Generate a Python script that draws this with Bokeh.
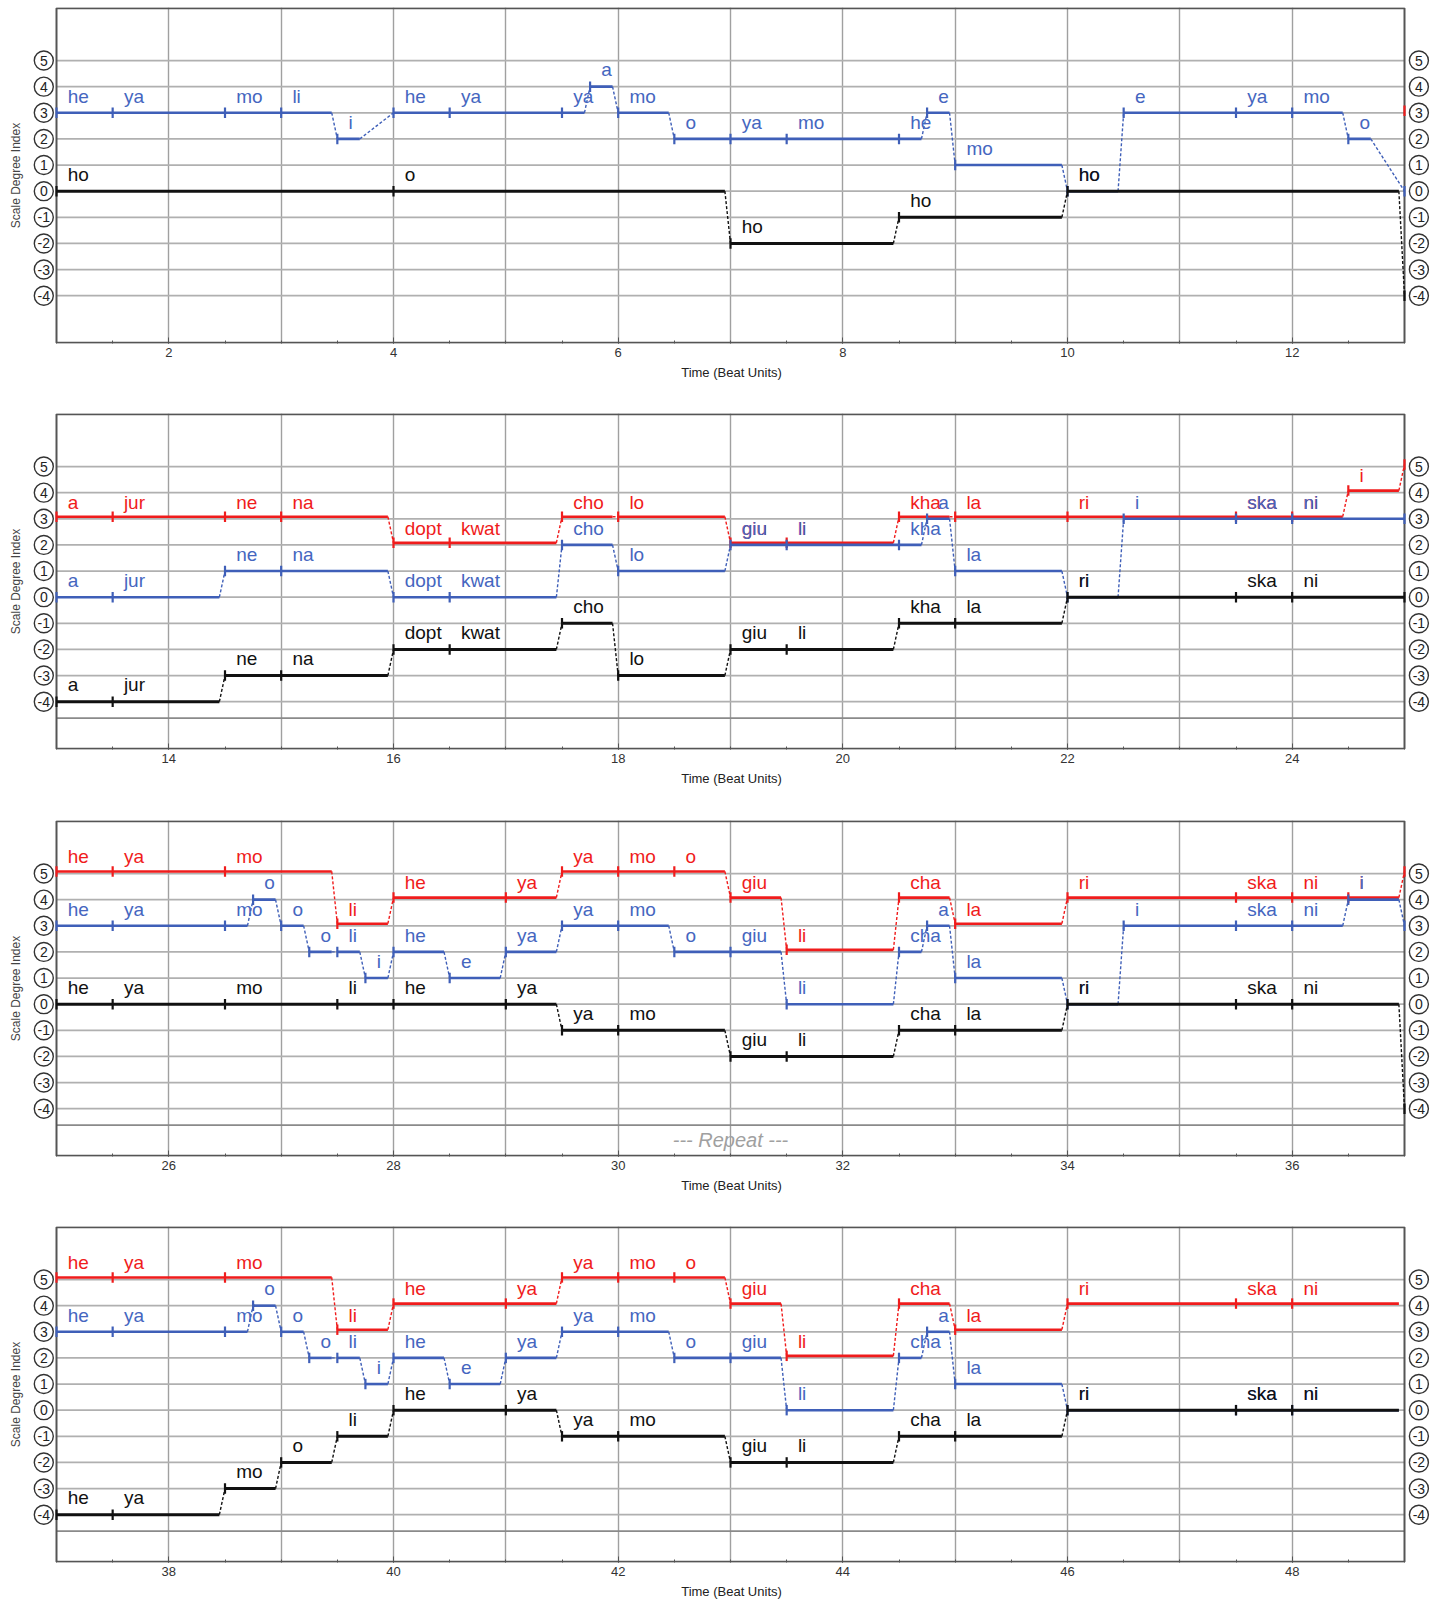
from bokeh.plotting import figure
from bokeh.models import Range1d, FixedTicker, ColumnDataSource
from bokeh.layouts import column
from bokeh.embed import file_html
from bokeh.resources import INLINE
from bokeh.core.properties import value

FONT = "Liberation Sans"

# ---------------- data (time in beats, pitch = scale degree index) ----------------
red_start = [13, 13.5, 14.5, 15, 16, 16.5, 17.5, 18, 19, 19.5, 20.5, 21, 22, 23.5, 24, 24.5,
             25, 25.5, 26.5, 27.5, 28, 29, 29.5, 30, 30.5, 31, 31.5, 32.5, 33, 34, 35.5, 36, 36.5,
             37, 37.5, 38.5, 39.5, 40, 41, 41.5, 42, 42.5, 43, 43.5, 44.5, 45, 46, 47.5, 48]
red_end = [13.5, 14.5, 15, 15.95, 16.5, 17.45, 17.95, 18.95, 19.5, 20.45, 20.95, 22, 23.5, 24, 24.45, 24.95,
           25.5, 26.5, 27.45, 27.95, 29, 29.45, 30, 30.5, 30.95, 31.45, 32.45, 32.95, 33.95, 35.5, 36, 36.5, 36.95,
           37.5, 38.5, 39.45, 39.95, 41, 41.45, 42, 42.5, 42.95, 43.45, 44.45, 44.95, 45.95, 47.5, 48, 48.95]
red_pitch = [3, 3, 3, 3, 2, 2, 3, 3, 2, 2, 3, 3, 3, 3, 3, 4,
             5, 5, 5, 3, 4, 4, 5, 5, 5, 4, 2, 4, 3, 4, 4, 4, 4,
             5, 5, 5, 3, 4, 4, 5, 5, 5, 4, 2, 4, 3, 4, 4, 4]
red_syl = ["a", "jur", "ne", "na", "dopt", "kwat", "cho", "lo", "giu", "li", "kha", "la", "ri", "ska", "ni", "i",
           "he", "ya", "mo", "li", "he", "ya", "ya", "mo", "o", "giu", "li", "cha", "la", "ri", "ska", "ni", "i",
           "he", "ya", "mo", "li", "he", "ya", "ya", "mo", "o", "giu", "li", "cha", "la", "ri", "ska", "ni"]

blue_start = [1, 1.5, 2.5, 3, 3.5, 4, 4.5, 5.5, 5.75, 6, 6.5, 7, 7.5, 8.5, 8.75, 9, 10, 10.5, 11.5, 12, 12.5,
              13, 13.5, 14.5, 15, 16, 16.5, 17.5, 18, 19, 19.5, 20.5, 20.75, 21, 22, 22.5, 23.5, 24,
              25, 25.5, 26.5, 26.75, 27, 27.25, 27.5, 27.75, 28, 28.5, 29, 29.5, 30, 30.5, 31, 31.5, 32.5, 32.75,
              33, 34, 34.5, 35.5, 36, 36.5,
              37, 37.5, 38.5, 38.75, 39, 39.25, 39.5, 39.75, 40, 40.5, 41, 41.5, 42, 42.5, 43, 43.5, 44.5, 44.75,
              45, 46, 47.5, 48]
blue_end = [1.5, 2.5, 3, 3.45, 3.7, 4.5, 5.5, 5.7, 5.95, 6.45, 7, 7.5, 8.5, 8.7, 8.95, 9.95, 10.45, 11.5, 12, 12.45, 12.7,
            13.5, 14.45, 15, 15.95, 16.5, 17.45, 17.95, 18.95, 19.5, 20.5, 20.7, 20.95, 21.95, 22.45, 23.5, 24, 25,
            25.5, 26.5, 26.7, 26.95, 27.2, 27.45, 27.7, 27.95, 28.45, 28.95, 29.45, 30, 30.45, 31, 31.45, 32.45, 32.7, 32.95,
            33.95, 34.45, 35.5, 36, 36.45, 36.95,
            37.5, 38.5, 38.7, 38.95, 39.2, 39.45, 39.7, 39.95, 40.45, 40.95, 41.45, 42, 42.45, 43, 43.45, 44.45, 44.7, 44.95,
            45.95, 47.5, 48, 48.95]
blue_pitch = [3, 3, 3, 3, 2, 3, 3, 3, 4, 3, 2, 2, 2, 2, 3, 1, 0, 3, 3, 3, 2,
              0, 0, 1, 1, 0, 0, 2, 1, 2, 2, 2, 3, 1, 0, 3, 3, 3,
              3, 3, 3, 4, 3, 2, 2, 1, 2, 1, 2, 3, 3, 2, 2, 0, 2, 3,
              1, 0, 3, 3, 3, 4,
              3, 3, 3, 4, 3, 2, 2, 1, 2, 1, 2, 3, 3, 2, 2, 0, 2, 3,
              1, 0, 0, 0]
blue_syl = ["he", "ya", "mo", "li", "i", "he", "ya", "ya", "a", "mo", "o", "ya", "mo", "he", "e", "mo", "ho", "e", "ya", "mo", "o",
            "a", "jur", "ne", "na", "dopt", "kwat", "cho", "lo", "giu", "li", "kha", "a", "la", "ri", "i", "ska", "ni",
            "he", "ya", "mo", "o", "o", "o", "li", "i", "he", "e", "ya", "ya", "mo", "o", "giu", "li", "cha", "a",
            "la", "ri", "i", "ska", "ni", "i",
            "he", "ya", "mo", "o", "o", "o", "li", "i", "he", "e", "ya", "ya", "mo", "o", "giu", "li", "cha", "a",
            "la", "ri", "ska", "ni"]

black_start = [1, 4, 7, 8.5, 10,
               13, 13.5, 14.5, 15, 16, 16.5, 17.5, 18, 19, 19.5, 20.5, 21, 22, 23.5, 24,
               25, 25.5, 26.5, 27.5, 28, 29, 29.5, 30, 31, 31.5, 32.5, 33, 34, 35.5, 36,
               37, 37.5, 38.5, 39, 39.5, 40, 41, 41.5, 42, 43, 43.5, 44.5, 45, 46, 47.5, 48]
black_end = [4, 6.95, 8.45, 9.95, 12.95,
             13.5, 14.45, 15, 15.95, 16.5, 17.45, 17.95, 18.95, 19.5, 20.45, 21, 21.95, 23.5, 24, 25,
             25.5, 26.5, 27.5, 28, 29, 29.45, 30, 30.95, 31.5, 32.45, 33, 33.95, 35.5, 36, 36.95,
             37.5, 38.45, 38.95, 39.45, 39.95, 41, 41.45, 42, 42.95, 43.5, 44.45, 45, 45.95, 47.5, 48, 48.95]
black_pitch = [0, 0, -2, -1, 0,
               -4, -4, -3, -3, -2, -2, -1, -3, -2, -2, -1, -1, 0, 0, 0,
               0, 0, 0, 0, 0, 0, -1, -1, -2, -2, -1, -1, 0, 0, 0,
               -4, -4, -3, -2, -1, 0, 0, -1, -1, -2, -2, -1, -1, 0, 0, 0]
black_syl = ["ho", "o", "ho", "ho", "ho",
             "a", "jur", "ne", "na", "dopt", "kwat", "cho", "lo", "giu", "li", "kha", "la", "ri", "ska", "ni",
             "he", "ya", "mo", "li", "he", "ya", "ya", "mo", "giu", "li", "cha", "la", "ri", "ska", "ni",
             "he", "ya", "mo", "o", "li", "he", "ya", "ya", "mo", "giu", "li", "cha", "la", "ri", "ska", "ni"]

panel_starts = [1, 13, 25, 37]
degree_levels = [5, 4, 3, 2, 1, 0, -1, -2, -3, -4]
degree_labels = ["5", "4", "3", "2", "1", "0", "-1", "-2", "-3", "-4"]
repeat_text = "--- Repeat ---"

# (starts, ends, pitches, syllables, line colour, text colour, line width, drawing lift in degrees)
voices = [
    (red_start, red_end, red_pitch, red_syl, "#f01c1c", "#f01c1c", 2.6, 0.08),
    (blue_start, blue_end, blue_pitch, blue_syl, "#3f5fb8", "#4566bf", 2.6, 0.0),
    (black_start, black_end, black_pitch, black_syl, "#111111", "#111111", 3.0, 0.0),
]

# ---------------- layout constants ----------------
PX = 1348 / 12.0          # pixels per beat
MB_L = 22
FRAME_W = 1418
FRAME_H = 336
LEFT_PAD = (56 - MB_L) / PX        # beats between frame left and first beat
RIGHT_PAD = (MB_L + FRAME_W - 1404) / PX
Y_LO, Y_HI = -5.8, 7.0
TOP_BORDERS = [7, 7, 8, 7]
BOTTOM_BORDERS = [63, 63, 63, 38]
LABEL_DX, LABEL_DY = 0.1, 0.64


def make_panel(k):
    x0 = panel_starts[k]
    x1 = x0 + 12
    xr = Range1d(x0 - LEFT_PAD, x1 + RIGHT_PAD)
    yr = Range1d(Y_LO - 0.03, Y_HI + 0.03)
    p = figure(frame_width=FRAME_W, frame_height=FRAME_H, x_range=xr, y_range=yr,
               output_backend="svg", toolbar_location=None,
               min_border_left=MB_L, min_border_right=0, min_border_top=TOP_BORDERS[k],
               min_border_bottom=BOTTOM_BORDERS[k], outline_line_color=None,
               background_fill_color="white", border_fill_color="white")

    # grid
    p.ygrid.grid_line_color = None
    p.xgrid.ticker = FixedTicker(ticks=[x0 + i for i in range(1, 12)])
    p.xgrid.grid_line_color = "#a0a0a0"
    p.xgrid.grid_line_width = 1.4
    p.segment(x0=[x0] * len(degree_levels), x1=[x1] * len(degree_levels),
              y0=degree_levels, y1=degree_levels, line_color="#b0b0b0", line_width=1.8)
    if k >= 1:
        p.segment(x0=[x0], x1=[x1], y0=[-4.63], y1=[-4.63], line_color="#8a8a8a", line_width=1.6)
    if k == 2:
        p.text(x=[x0 + 6], y=[-5.2], text=[repeat_text], text_align="center",
               text_baseline="middle", text_color="#a0a0a0", text_font_size="20px",
               text_font=value(FONT), text_font_style="italic")

    # border
    p.quad(left=[x0], right=[x1], bottom=[Y_LO], top=[Y_HI], fill_color=None,
           line_color="#555555", line_width=2)

    # axes
    p.yaxis.ticker = FixedTicker(ticks=[])
    p.yaxis.axis_line_color = None
    p.yaxis.major_tick_line_color = None
    p.yaxis.minor_tick_line_color = None
    p.yaxis.major_label_text_font_size = "0px"
    p.yaxis.major_tick_out = 0
    p.yaxis.major_label_standoff = 0
    p.yaxis.axis_label = "Scale Degree Index"
    p.yaxis.axis_label_text_font = FONT
    p.yaxis.axis_label_text_font_size = "12px"
    p.yaxis.axis_label_text_font_style = "normal"
    p.yaxis.axis_label_text_color = "#444444"
    p.yaxis.axis_label_standoff = 0

    p.xaxis.ticker = FixedTicker(ticks=[x0 + i for i in range(1, 12, 2)],
                                 minor_ticks=[x0 + 0.5 * i for i in range(0, 25)])
    p.xaxis.axis_line_color = None
    p.xaxis.major_tick_in = 6
    p.xaxis.major_tick_out = 0
    p.xaxis.minor_tick_in = 3
    p.xaxis.minor_tick_out = 0
    p.xaxis.major_tick_line_color = "#555555"
    p.xaxis.minor_tick_line_color = "#555555"
    p.xaxis.major_label_text_font = FONT
    p.xaxis.major_label_text_font_size = "13px"
    p.xaxis.major_label_text_color = "#333333"
    p.xaxis.major_label_standoff = 4
    p.xaxis.axis_label = "Time (Beat Units)"
    p.xaxis.axis_label_text_font = FONT
    p.xaxis.axis_label_text_font_size = "13px"
    p.xaxis.axis_label_text_font_style = "normal"
    p.xaxis.axis_label_text_color = "#222222"
    p.xaxis.axis_label_standoff = 5

    # voices
    for st, en, pi, sy, col, tcol, lw, lift in voices:
        n = len(st)
        seg = dict(a=[], b=[], y=[])
        tk = dict(x=[], y=[])
        lab = dict(x=[], y=[], t=[])
        con = dict(a=[], b=[], ya=[], yb=[])
        for i in range(n):
            if st[i] < x1 and en[i] > x0:
                seg["a"].append(max(st[i], x0))
                seg["b"].append(min(en[i], x1))
                seg["y"].append(pi[i] + lift)
            if x0 <= st[i] <= x1:
                tk["x"].append(st[i])
                tk["y"].append(pi[i] + lift)
            if x0 <= st[i] < x1:
                lab["x"].append(st[i] + LABEL_DX)
                lab["y"].append(pi[i] + LABEL_DY)
                lab["t"].append(sy[i])
            if i < n - 1 and en[i] >= x0 and st[i + 1] <= x1 and \
                    (en[i] < st[i + 1] or pi[i] != pi[i + 1]):
                con["a"].append(en[i])
                con["b"].append(st[i + 1])
                con["ya"].append(pi[i] + lift)
                con["yb"].append(pi[i + 1] + lift)
        if con["a"]:
            p.segment(x0="a", x1="b", y0="ya", y1="yb", source=ColumnDataSource(con),
                      line_color=col, line_width=1.4, line_dash="3 2")
        if seg["a"]:
            p.segment(x0="a", x1="b", y0="y", y1="y", source=ColumnDataSource(seg),
                      line_color=col, line_width=lw)
        if tk["x"]:
            tsrc = ColumnDataSource(dict(x=tk["x"], y0=[v - 0.2 for v in tk["y"]],
                                         y1=[v + 0.2 for v in tk["y"]]))
            p.segment(x0="x", x1="x", y0="y0", y1="y1", source=tsrc,
                      line_color=col, line_width=2.2)
        if lab["x"]:
            p.text(x="x", y="y", text="t", source=ColumnDataSource(lab),
                   text_color=tcol, text_font=value(FONT), text_font_size="19px",
                   text_baseline="alphabetic", text_align="left")

    # circled degree labels on both sides
    for cx in (x0 - 12.7 / PX, x1 + 14.4 / PX):
        csrc = ColumnDataSource(dict(x=[cx] * len(degree_levels), y=degree_levels, t=degree_labels))
        p.scatter(x="x", y="y", source=csrc, marker="circle", size=19,
                  fill_color="white", line_color="#333333", line_width=1.4)
        p.text(x="x", y="y", text="t", source=csrc, text_align="center",
               text_baseline="middle", text_font=value(FONT), text_font_size="14px",
               text_color="#222222")
    return p


panels = [make_panel(k) for k in range(4)]
layout = column(*panels, spacing=0)
open("out.html", "w").write(file_html(layout, INLINE))
